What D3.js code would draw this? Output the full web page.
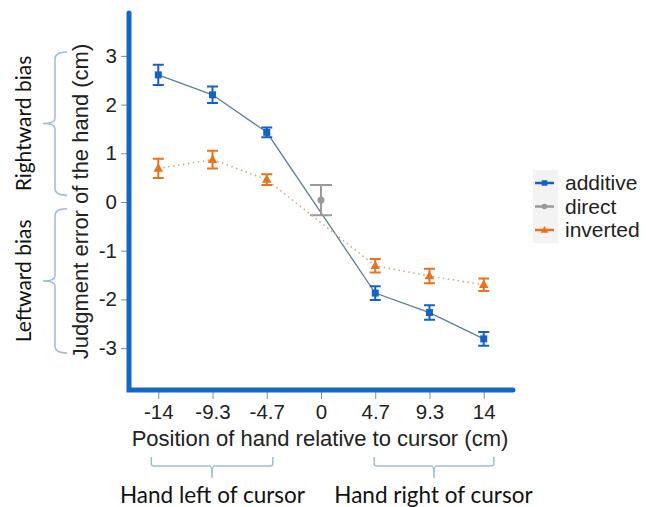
<!DOCTYPE html>
<html>
<head>
<meta charset="utf-8">
<script src="https://cdn.jsdelivr.net/npm/d3@7"></script>
<style>
  body { margin: 0; background: #fff; }
  svg { display: block; }
  .tick text { font-family: "Liberation Sans", Arial, sans-serif; font-size: 20.5px; fill: #222; }
</style>
</head>
<body>
<svg id="chart" width="646" height="507"></svg>
<script>
const positions = ["-14", "-9.3", "-4.7", "0", "4.7", "9.3", "14"];
const yTicks = [-3, -2, -1, 0, 1, 2, 3];

const additiveMean = [2.61, 2.20, 1.43, null, -1.87, -2.27, -2.81];
const additiveErr = [0.21, 0.17, 0.10, null, 0.14, 0.15, 0.14];
const directMean = [null, null, null, 0.04, null, null, null];
const directErr = [null, null, null, 0.31, null, null, null];
const invertedMean = [0.69, 0.87, 0.46, null, -1.31, -1.52, -1.70];
const invertedErr = [0.20, 0.18, 0.11, null, 0.14, 0.15, 0.13];

const seriesNames = ["additive", "direct", "inverted"];

const svg = d3.select("#chart");

const x = d3.scalePoint().domain(positions).range([129, 513]).padding(0.54);
const y = d3.scaleLinear().domain([-3.86, 3.88]).range([390, 13]);

const axisBlue = "#1666c6";
const tickGray = "#8a8a8a";
const braceBlue = "#9dbbe0";
const humanist = "Lato, 'Open Sans', sans-serif";
const arial = "'Liberation Sans', Arial, sans-serif";

const series = [
  { name: "additive", mean: additiveMean, err: additiveErr, color: "#1463c4", line: "#5b7f9f", dash: null, shape: "square", cap: 11 },
  { name: "direct", mean: directMean, err: directErr, color: "#9a9a9a", line: "#9a9a9a", dash: null, shape: "circle", cap: 22 },
  { name: "inverted", mean: invertedMean, err: invertedErr, color: "#e8731e", line: "#dba67a", dash: "1.5,3.5", shape: "triangle", cap: 11 }
];

// axes (ticks only, the thick blue lines drawn separately)
const yAxis = svg.append("g")
  .attr("transform", "translate(127,0)")
  .call(d3.axisLeft(y).tickValues(yTicks).tickSize(6).tickPadding(4).tickFormat(d => String(d)));
yAxis.select(".domain").remove();
yAxis.selectAll(".tick line").attr("stroke", tickGray);

const xAxis = svg.append("g")
  .attr("transform", "translate(0,392)")
  .call(d3.axisBottom(x).tickSize(7).tickPadding(5));
xAxis.select(".domain").remove();
xAxis.selectAll(".tick line").attr("stroke", tickGray);

svg.append("path")
  .attr("d", d3.line()([[129, y.range()[1]], [129, 390], [513, 390]]))
  .attr("fill", "none")
  .attr("stroke", axisBlue)
  .attr("stroke-width", 5)
  .attr("stroke-linecap", "round")
  .attr("stroke-linejoin", "miter");

// axis titles
svg.append("text")
  .attr("transform", `translate(88,${(y.range()[0] + y.range()[1]) / 2}) rotate(-90)`)
  .attr("text-anchor", "middle")
  .attr("font-family", arial)
  .attr("font-size", 22)
  .attr("fill", "#222")
  .text("Judgment error of the hand (cm)");

svg.append("text")
  .attr("x", 320)
  .attr("y", 446)
  .attr("text-anchor", "middle")
  .attr("font-family", arial)
  .attr("font-size", 22)
  .attr("fill", "#222")
  .text("Position of hand relative to cursor (cm)");

// series
const plot = svg.append("g");

series.forEach(s => {
  let pts = positions.map((p, i) => ({ p, m: s.mean[i], e: s.err[i] })).filter(d => d.m !== null);

  let line = d3.line().x(d => x(d.p)).y(d => y(d.m));

  if (pts.length > 1) {
    plot.append("path")
      .datum(pts)
      .attr("d", line)
      .attr("fill", "none")
      .attr("stroke", s.line)
      .attr("stroke-width", s.dash ? 1.6 : 1.3)
      .attr("stroke-dasharray", s.dash);
  }

  let g = plot.append("g").attr("stroke", s.color).attr("fill", s.color);

  pts.forEach(d => {
    let cx = x(d.p);
    let hw = s.cap / 2;
    g.append("path")
      .attr("fill", "none")
      .attr("stroke-width", 2)
      .attr("d", `M${cx - hw},${y(d.m + d.e)}H${cx + hw}M${cx},${y(d.m + d.e)}V${y(d.m - d.e)}M${cx - hw},${y(d.m - d.e)}H${cx + hw}`);

    drawMarker(g, s.shape, cx, y(d.m), 1);
  });
});

function drawMarker(g, shape, cx, cy, k) {
  if (shape === "square") {
    g.append("rect")
      .attr("x", cx - 3.5 * k).attr("y", cy - 3.5 * k)
      .attr("width", 7 * k).attr("height", 7 * k)
      .attr("stroke", "none");
  } else if (shape === "circle") {
    g.append("circle")
      .attr("cx", cx).attr("cy", cy).attr("r", 3.5 * k)
      .attr("stroke", "none");
  } else {
    g.append("path")
      .attr("d", d3.symbol(d3.symbolTriangle, 40 * k * k)())
      .attr("transform", `translate(${cx},${cy + 0.5})`)
      .attr("stroke", "none");
  }
}

// legend
const legend = svg.append("g");
legend.append("rect")
  .attr("x", 533).attr("y", 170)
  .attr("width", 25).attr("height", 73)
  .attr("fill", "#f3f3f3");

series.forEach((s, i) => {
  let cy = 183 + i * 23.5;
  let g = legend.append("g").attr("fill", s.color).attr("stroke", s.color);
  g.append("line")
    .attr("x1", 535).attr("x2", 554)
    .attr("y1", cy).attr("y2", cy)
    .attr("stroke-width", 2.5);
  drawMarker(g, s.shape, 544.5, cy, 0.8);
  legend.append("text")
    .attr("x", 565)
    .attr("y", cy + 7)
    .attr("font-family", arial)
    .attr("font-size", 21)
    .attr("fill", "#222")
    .text(seriesNames[i]);
});

// braces
function vBrace(xLine, top, bottom) {
  let mid = (top + bottom) / 2;
  return `M${xLine + 12},${top}Q${xLine},${top} ${xLine},${top + 7}` +
    `L${xLine},${mid - 5}Q${xLine},${mid} ${xLine - 12},${mid}` +
    `Q${xLine},${mid} ${xLine},${mid + 5}` +
    `L${xLine},${bottom - 7}Q${xLine},${bottom} ${xLine + 12},${bottom}`;
}

function hBrace(yLine, left, right) {
  let mid = (left + right) / 2;
  return `M${left},${yLine - 9}V${yLine - 2}Q${left},${yLine} ${left + 3},${yLine}` +
    `H${mid - 2}Q${mid},${yLine} ${mid},${yLine + 12}` +
    `Q${mid},${yLine} ${mid + 2},${yLine}` +
    `H${right - 3}Q${right},${yLine} ${right},${yLine - 2}V${yLine - 9}`;
}

const braces = svg.append("g")
  .attr("fill", "none")
  .attr("stroke", braceBlue)
  .attr("stroke-width", 1.5);

braces.append("path").attr("d", vBrace(55, y(3.08), y(0.14)));
braces.append("path").attr("d", vBrace(55, y(-0.14), y(-3.1)));
braces.append("path").attr("d", hBrace(466, x("-14") - 7, x("-4.7") + 6));
braces.append("path").attr("d", hBrace(466, x("4.7") - 1, x("14") + 10));

const notes = svg.append("g")
  .attr("font-family", humanist)
  .attr("fill", "#111")
  .attr("text-anchor", "middle");

notes.append("text")
  .attr("transform", `translate(31,${(y(3.08) + y(0.14)) / 2}) rotate(-90)`)
  .attr("font-size", 21)
  .text("Rightward bias");
notes.append("text")
  .attr("transform", `translate(31,${(y(-0.14) + y(-3.1)) / 2}) rotate(-90)`)
  .attr("font-size", 21)
  .text("Leftward bias");
notes.append("text")
  .attr("x", (x("-14") + x("-4.7")) / 2)
  .attr("y", 503)
  .attr("font-size", 22.5)
  .text("Hand left of cursor");
notes.append("text")
  .attr("x", (x("4.7") + x("14")) / 2 + 4)
  .attr("y", 503)
  .attr("font-size", 22.5)
  .text("Hand right of cursor");
</script>
</body>
</html>
